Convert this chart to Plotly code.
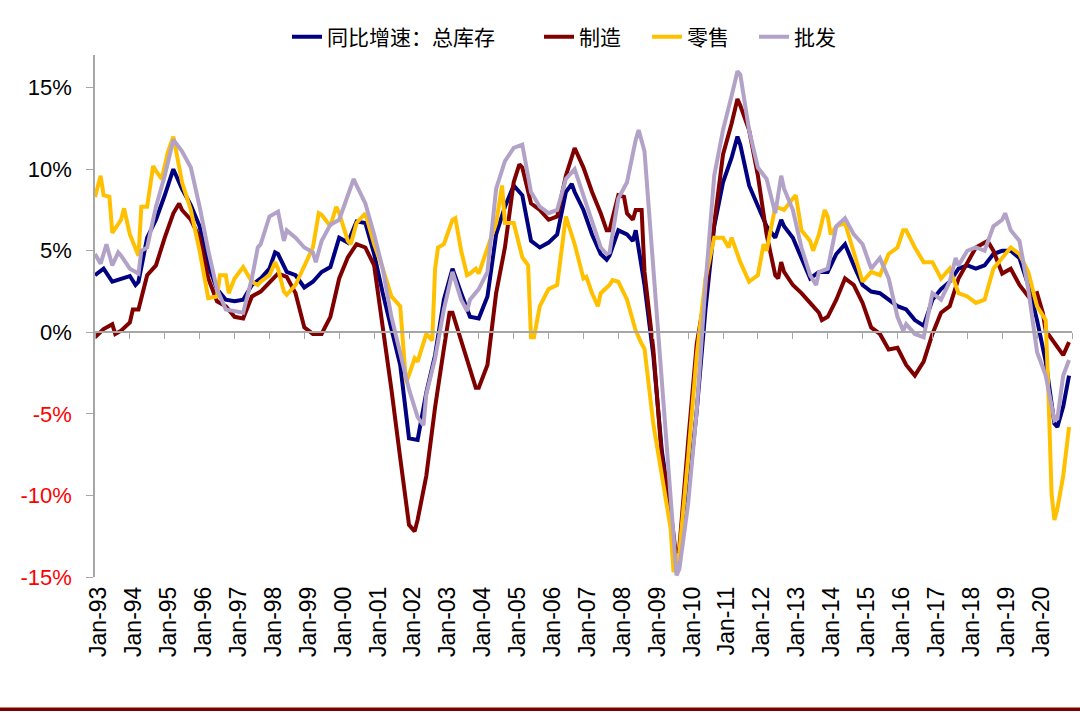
import plotly.graph_objects as go

# ---------------- data (YoY growth, %) ----------------
total_dates = ["1993-01","1993-04","1993-07","1993-10","1994-01","1994-03","1994-04","1994-07","1994-10",
    "1995-01","1995-04","1995-07","1995-10","1996-01","1996-04","1996-07","1996-10","1997-01","1997-04",
    "1997-07","1997-10","1998-01","1998-03","1998-04","1998-07","1998-10","1999-01","1999-04","1999-07",
    "1999-10","2000-01","2000-04","2000-07","2000-10","2001-01","2001-04","2001-07","2001-10","2002-01",
    "2002-04","2002-07","2002-10","2003-01","2003-04","2003-07","2003-10","2004-01","2004-04","2004-07",
    "2004-10","2005-01","2005-04","2005-07","2005-10","2006-01","2006-04","2006-07","2006-09","2006-10",
    "2007-01","2007-04","2007-07","2007-09","2007-10","2008-01","2008-04","2008-06","2008-07","2008-10",
    "2009-01","2009-04","2009-07","2009-09","2009-10","2010-01","2010-04","2010-07","2010-10","2011-01",
    "2011-04","2011-06","2011-07","2011-10","2012-01","2012-04","2012-07","2012-09","2012-10","2013-01",
    "2013-04","2013-07","2013-10","2014-01","2014-04","2014-07","2014-10","2015-01","2015-04","2015-07",
    "2015-10","2016-01","2016-04","2016-07","2016-10","2017-01","2017-04","2017-07","2017-10","2018-01",
    "2018-04","2018-07","2018-10","2019-01","2019-04","2019-07","2019-10","2020-01","2020-04","2020-07",
    "2020-08","2020-10","2020-12"]
total_values = [3.5,3.9,3.1,3.3,3.45,2.9,3.1,5.8,6.9,
    8.4,10.0,8.8,7.8,6.5,4.1,2.65,2.0,1.9,2.0,
    2.9,3.3,3.9,4.9,4.8,3.7,3.5,2.75,3.1,3.7,
    4.0,5.8,5.5,6.8,6.7,4.8,2.4,0.1,-2.0,-6.5,
    -6.6,-3.7,-1.4,2.0,3.9,2.4,0.95,0.85,2.2,6.0,
    7.7,9.0,8.4,5.6,5.2,5.5,6.0,8.6,9.1,8.6,
    7.5,6.0,4.8,4.45,4.7,6.25,6.0,5.6,6.25,2.9,
    -1.4,-7.3,-10.9,-14.7,-14.1,-9.85,-4.8,1.4,6.5,9.2,
    10.7,12.0,11.5,9.0,7.7,6.5,5.8,6.9,6.5,5.8,
    4.55,3.3,3.7,3.7,4.8,5.4,4.1,2.9,2.5,2.4,
    2.0,1.6,1.4,0.75,0.4,2.0,2.65,3.1,3.9,4.1,
    3.9,4.1,4.8,5.0,5.0,4.55,2.9,0.75,-1.8,-5.6,
    -5.8,-4.55,-2.65]

mfg_dates = ["1993-01","1993-04","1993-07","1993-08","1993-10","1994-01","1994-02","1994-04","1994-07",
    "1994-10","1995-01","1995-04","1995-06","1995-07","1995-10","1996-01","1996-04","1996-07","1996-10",
    "1997-01","1997-04","1997-07","1997-10","1998-01","1998-04","1998-07","1998-10","1999-01","1999-04",
    "1999-07","1999-10","2000-01","2000-04","2000-07","2000-10","2001-01","2001-04","2001-07","2001-10",
    "2002-01","2002-03","2002-04","2002-07","2002-10","2003-01","2003-03","2003-04","2003-07","2003-10",
    "2003-12","2004-01","2004-04","2004-07","2004-10","2005-01","2005-03","2005-04","2005-07","2005-10",
    "2006-01","2006-04","2006-07","2006-10","2007-01","2007-04","2007-07","2007-09","2007-10","2008-01",
    "2008-03","2008-04","2008-06","2008-07","2008-09","2008-10","2009-01","2009-04","2009-07","2009-09",
    "2009-10","2010-01","2010-04","2010-07","2010-10","2011-01","2011-04","2011-06","2011-07","2011-10",
    "2012-01","2012-04","2012-07","2012-08","2012-09","2012-10","2013-01","2013-04","2013-07","2013-10",
    "2013-11","2014-01","2014-04","2014-07","2014-10","2015-01","2015-04","2015-07","2015-10","2016-01",
    "2016-04","2016-07","2016-10","2017-01","2017-04","2017-07","2017-10","2018-01","2018-04","2018-08",
    "2018-10","2019-01","2019-04","2019-07","2019-10","2020-01","2020-03","2020-04","2020-07","2020-10",
    "2020-12"]
mfg_values = [-0.3,0.2,0.5,-0.1,0.1,0.6,1.4,1.4,3.5,
    4.1,5.8,7.3,7.9,7.5,6.9,5.8,3.3,1.9,1.6,
    0.95,0.85,2.2,2.5,3.1,3.6,3.4,2.4,0.3,-0.1,
    -0.1,0.95,3.3,4.6,5.4,5.2,4.1,0.5,-3.5,-7.7,
    -11.8,-12.2,-11.5,-8.8,-4.6,-1.0,1.2,1.2,-0.5,-2.3,
    -3.4,-3.4,-2.0,2.4,5.2,9.2,10.3,10.1,7.9,7.5,
    6.9,7.1,9.6,11.3,10.1,8.6,7.3,6.25,6.25,8.4,
    8.3,7.3,6.9,7.5,7.5,3.7,-1.0,-7.7,-10.9,-13.9,
    -13.2,-6.7,-0.7,2.4,6.7,10.9,12.8,14.3,13.9,12.4,
    9.6,6.0,3.5,3.3,4.3,3.7,2.9,2.4,1.8,1.2,
    0.75,0.95,2.0,3.3,2.9,1.8,0.3,-0.1,-1.05,-0.95,
    -2.0,-2.65,-1.8,-0.1,1.2,1.6,3.3,4.3,5.2,5.6,
    5.0,3.6,3.9,2.9,2.2,2.4,1.2,0.1,-0.7,-1.4,
    -0.6]

retail_dates = ["1993-01","1993-03","1993-04","1993-06","1993-07","1993-10","1993-11","1994-01","1994-04",
    "1994-05","1994-07","1994-09","1994-10","1994-12","1995-02","1995-04","1995-07","1995-10","1996-01",
    "1996-04","1996-07","1996-08","1996-10","1996-11","1997-01","1997-04","1997-07","1997-09","1997-10",
    "1998-01","1998-03","1998-04","1998-06","1998-07","1998-10","1999-01","1999-04","1999-06","1999-07",
    "1999-10","1999-12","2000-01","2000-04","2000-05","2000-07","2000-10","2001-01","2001-04","2001-07",
    "2001-10","2001-12","2002-01","2002-03","2002-04","2002-07","2002-09","2002-10","2002-11","2003-01",
    "2003-04","2003-05","2003-07","2003-09","2003-10","2003-12","2004-01","2004-04","2004-07","2004-09",
    "2004-10","2005-01","2005-04","2005-06","2005-07","2005-08","2005-10","2006-01","2006-04","2006-07",
    "2006-10","2007-01","2007-02","2007-04","2007-06","2007-07","2007-10","2007-11","2008-01","2008-04",
    "2008-07","2008-09","2008-10","2009-01","2009-04","2009-07","2009-08","2009-10","2010-01","2010-04",
    "2010-07","2010-10","2011-01","2011-03","2011-04","2011-07","2011-10","2012-01","2012-03","2012-04",
    "2012-07","2012-10","2013-01","2013-02","2013-04","2013-07","2013-08","2013-10","2013-12","2014-01",
    "2014-02","2014-04","2014-07","2014-10","2015-01","2015-04","2015-07","2015-10","2016-01","2016-03",
    "2016-04","2016-07","2016-10","2017-01","2017-04","2017-07","2017-10","2018-01","2018-04","2018-07",
    "2018-10","2019-01","2019-04","2019-07","2019-10","2020-01","2020-04","2020-05","2020-06","2020-07",
    "2020-08","2020-10","2020-12"]
retail_values = [8.3,9.6,8.4,8.3,6.1,6.9,7.6,6.0,4.7,
    7.7,7.7,10.2,9.9,9.4,11.0,12.0,9.2,7.5,5.0,
    2.1,2.2,3.5,3.5,2.4,3.3,4.0,3.1,2.9,3.1,
    3.5,4.3,3.9,2.5,2.3,2.9,4.1,5.2,7.3,7.2,
    6.5,7.7,7.3,5.6,5.4,6.7,7.3,5.4,3.9,2.2,
    1.6,-3.1,-2.6,-1.6,-1.8,-0.1,-0.5,3.9,5.2,5.4,
    6.9,7.0,5.0,3.5,3.6,3.9,3.6,5.2,6.7,9.0,
    6.7,6.7,4.6,4.1,-0.3,-0.3,1.6,2.65,2.9,7.1,
    5.4,3.3,3.4,2.4,1.6,2.4,2.9,3.2,3.1,2.0,
    0.1,-0.7,-1.0,-5.6,-8.8,-12.0,-14.7,-13.5,-7.7,-1.4,
    3.3,5.8,5.8,5.2,5.8,4.3,3.1,3.5,5.4,5.0,
    7.7,7.5,8.2,8.4,6.25,5.6,5.0,6.0,7.5,7.1,
    6.0,6.5,6.7,5.0,3.1,3.7,3.5,4.8,5.2,6.25,
    6.25,5.2,4.3,4.3,3.3,3.9,2.4,2.2,1.8,2.0,
    3.9,4.55,5.2,4.8,3.7,1.6,0.75,-4.0,-9.9,-11.5,
    -10.8,-8.8,-5.8]

wholesale_dates = ["1993-01","1993-03","1993-05","1993-07","1993-09","1993-10","1994-01","1994-04","1994-05",
    "1994-07","1994-10","1995-01","1995-04","1995-07","1995-10","1996-01","1996-04","1996-07","1996-10",
    "1997-01","1997-04","1997-07","1997-09","1997-10","1998-01","1998-04","1998-06","1998-07","1998-10",
    "1999-01","1999-04","1999-05","1999-07","1999-10","2000-01","2000-04","2000-06","2000-07","2000-10",
    "2001-01","2001-04","2001-07","2001-10","2002-01","2002-04","2002-06","2002-07","2002-10","2003-01",
    "2003-04","2003-07","2003-09","2003-10","2004-01","2004-04","2004-07","2004-10","2005-01","2005-04",
    "2005-07","2005-10","2006-01","2006-04","2006-07","2006-10","2007-01","2007-04","2007-07","2007-09",
    "2007-10","2008-01","2008-04","2008-07","2008-08","2008-10","2009-01","2009-04","2009-07","2009-09",
    "2009-10","2010-01","2010-04","2010-07","2010-10","2011-01","2011-04","2011-06","2011-07","2011-10",
    "2012-01","2012-04","2012-07","2012-09","2012-10","2013-01","2013-04","2013-07","2013-09","2013-10",
    "2014-01","2014-04","2014-07","2014-10","2015-01","2015-04","2015-07","2015-10","2016-01","2016-03",
    "2016-04","2016-07","2016-10","2017-01","2017-04","2017-07","2017-09","2017-10","2018-01","2018-04",
    "2018-07","2018-10","2019-01","2019-02","2019-04","2019-07","2019-10","2020-01","2020-04","2020-07",
    "2020-08","2020-10","2020-12"]
wholesale_values = [4.8,4.2,5.4,4.1,4.9,4.7,3.9,3.6,5.0,
    5.2,7.7,9.6,11.8,11.1,10.1,7.7,5.0,2.65,1.4,
    1.3,1.2,3.3,5.2,5.4,7.1,7.4,5.6,6.25,5.8,
    5.2,4.9,4.3,5.6,6.6,6.9,8.4,9.4,9.0,7.9,
    6.0,3.9,0.95,-1.4,-3.5,-5.2,-5.7,-3.8,-1.6,1.4,
    3.7,2.0,1.3,2.0,2.65,3.7,8.8,10.5,11.3,11.5,
    8.6,7.7,7.3,7.5,9.4,10.0,8.4,6.9,5.2,4.8,
    4.9,8.2,9.2,11.8,12.4,11.1,3.9,-3.5,-9.85,-14.9,
    -14.5,-10.5,-4.8,2.9,9.6,12.4,14.5,16.0,15.8,12.4,
    10.1,9.4,7.3,9.6,8.8,7.5,5.2,3.5,2.9,3.7,
    3.9,6.5,7.0,6.0,5.4,3.9,4.55,3.3,0.95,0.1,
    0.5,-0.1,-0.3,2.4,2.0,3.1,4.55,4.1,5.0,5.2,
    5.0,6.5,6.9,7.3,6.25,5.6,2.65,-1.2,-2.65,-5.4,
    -5.3,-2.65,-1.7]

series_names = ["同比增速：总库存", "制造", "零售", "批发"]
series_colors = ["#000080", "#800000", "#FFC000", "#B3A2C7"]

year_labels = [f"{y}-01-01" for y in range(1993, 2021)]
year_ticks = [f"{y}-01-01" for y in range(1993, 2022)]
y_ticks = [-15, -10, -5, 0, 5, 10, 15]

# ---------------- figure ----------------
Y_MIN, Y_MAX = -15, 17
X_RANGE = ["1993-01-01", "2021-01-01"]
AXIS_GREY = "#A6A6A6"
LATIN = "Arial, Liberation Sans, sans-serif"
CJK = "Noto Sans CJK SC"
PLOT_L, PLOT_R, PLOT_T, PLOT_B = 95, 1072, 55, 577.5
PW, PH = PLOT_R - PLOT_L, PLOT_B - PLOT_T

legend_ids = ["legend", "legend2", "legend3", "legend4"]
legend_starts = [287, 539, 647, 754]   # page x of each legend box

fig = go.Figure()
for name, d, v, c, lg in zip(series_names,
                             [total_dates, mfg_dates, retail_dates, wholesale_dates],
                             [total_values, mfg_values, retail_values, wholesale_values],
                             series_colors, legend_ids):
    fig.add_trace(go.Scatter(x=d, y=v, name=name, mode="lines", legend=lg,
                             line=dict(color=c, width=4)))

# carrier for the category axis drawn through 0%
fig.add_trace(go.Scatter(x=[], y=[], xaxis="x2", yaxis="y", showlegend=False,
                         hoverinfo="skip"))

tick_text = []
for t in y_ticks:
    lab = f"{t}%"
    tick_text.append(f'<span style="color:#FF0000">{lab}</span>' if t < 0 else lab)

legend_layout = {}
for lg, px in zip(legend_ids, legend_starts):
    legend_layout[lg] = dict(orientation="h", x=(px - PLOT_L) / PW, xanchor="left",
                             y=(PLOT_T - 37) / PH + 1, yanchor="middle",
                             font=dict(family=CJK, size=21, color="black"),
                             bgcolor="rgba(0,0,0,0)", borderwidth=0)

fig.update_layout(
    template="none",
    width=1080, height=714,
    margin=dict(l=PLOT_L, r=1080 - PLOT_R, t=PLOT_T, b=714 - PLOT_B, pad=0),
    paper_bgcolor="white", plot_bgcolor="white",
    showlegend=True,
    **legend_layout,
    xaxis=dict(type="date", range=X_RANGE, tickvals=year_labels, tickformat="%b-%y",
               tickangle=-90, ticks="", showline=False, showgrid=False, zeroline=False,
               automargin=False, ticklabelstandoff=4, ticklabelshift=4,
               tickfont=dict(family=LATIN, size=23, color="black")),
    xaxis2=dict(type="date", range=X_RANGE, overlaying="x", anchor="free",
                position=(0 - Y_MIN) / (Y_MAX - Y_MIN),
                tickvals=year_ticks, ticks="outside", ticklen=6, tickwidth=1.2,
                tickcolor=AXIS_GREY, showline=True, linecolor=AXIS_GREY, linewidth=1.5,
                showticklabels=False, showgrid=False, zeroline=False, automargin=False),
    yaxis=dict(range=[Y_MIN, Y_MAX], tickvals=y_ticks, ticktext=tick_text,
               ticks="outside", ticklen=7, tickwidth=1.2, tickcolor=AXIS_GREY,
               showline=True, linecolor=AXIS_GREY, linewidth=1.5,
               showgrid=False, zeroline=False, automargin=False, ticklabelstandoff=10,
               tickfont=dict(family=LATIN, size=22, color="black")),
)

# dark red rule along the bottom of the page
rule_y = (PLOT_B - 710) / PH
fig.add_shape(type="line", xref="paper", yref="paper",
              x0=-PLOT_L / PW, x1=(1080 - PLOT_L) / PW, y0=rule_y, y1=rule_y,
              line=dict(color="#780000", width=3.5))

fig.write_html("out.html", config={"displayModeBar": False},
               post_script="document.body.style.margin='0px';")
